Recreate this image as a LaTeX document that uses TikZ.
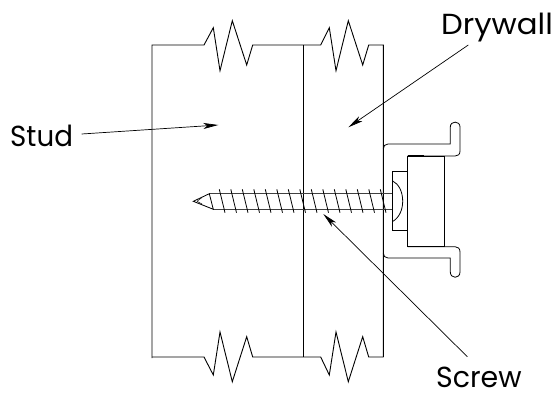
\documentclass[tikz,border=0pt]{standalone}
\usepackage{fontspec}
\setmainfont{Poppins}
\usetikzlibrary{arrows.meta}
\tikzset{
  wall/.style={line width=0.9pt,line join=miter},
  thin part/.style={line width=0.8pt},
  thread/.style={line width=0.8pt},
  shaft/.style={line width=1.1pt,black!75},
  leader/.style={line width=0.7pt,-{Stealth[length=15pt,width=6pt,inset=4pt]}},
  caption/.style={font=\fontsize{29}{32}\selectfont,inner sep=0pt,anchor=base west}
}
\begin{document}
\begin{tikzpicture}[x=1pt,y=-1pt]
\useasboundingbox (0,0) rectangle (556,393);
% stud and drywall outline
\draw[wall] (152,358) -- (152,45) -- (204,45) -- (213.3,27.7) -- (220,70.7) -- (232.3,20.7) -- (246.7,65) -- (252.7,45)
  -- (320.7,45) -- (329.3,27.7) -- (336,70.7) -- (348.3,20.7) -- (362.7,65) -- (368.7,45) -- (383.3,45) -- (383.3,357);
\draw[wall] (152,357) -- (204,357) -- (213.3,375) -- (220,332) -- (232.3,381.7) -- (246.7,336.7) -- (252.7,357)
  -- (320.7,357) -- (329.3,375) -- (336,332) -- (348.3,381.7) -- (362.7,336.7) -- (368.7,357) -- (383.3,357);
\draw[wall] (303.7,45) -- (303.7,357);
% clip
\draw[thin part] (383.3,149) .. controls (383.3,146) and (385,144) .. (388,144) -- (450.3,144) -- (450.3,127)
  .. controls (450.3,120.5) and (460,120.5) .. (460,127) -- (460,151)
  .. controls (460,154.5) and (458,156) .. (455,156) -- (407.7,156);
\draw[thin part] (383.3,253) .. controls (383.3,256) and (385,258) .. (388,258) -- (450.3,258) -- (450.3,272)
  .. controls (450.3,279) and (460,279) .. (460,272) -- (460,252)
  .. controls (460,248.5) and (458,246.7) .. (455,246.7) -- (407.7,246.7);
\draw[line width=1.1pt] (407.7,156) -- (424,156);
\draw[line width=1.1pt] (407.7,246.7) -- (424,246.7);
\draw[thin part] (407.7,156) rectangle (444.3,246.7);
\draw[thin part] (392.3,171.7) rectangle (407.7,230.3);
% screw head
\draw[thin part] (392.3,180.7) .. controls (399,184) and (402.7,192) .. (402.7,201.2) .. controls (402.7,210) and (399,218) .. (392.3,221.7);
% screw shaft
\draw[shaft] (209.3,193.7) -- (392.3,193.7);
\draw[shaft] (213.3,209.3) -- (392.3,209.3);
\draw[thin part] (209.3,193.7) -- (193.3,201.3) -- (213.3,209.3) -- cycle;
\draw[line width=0.5pt] (197,201.3) -- (202,197.5);
\draw[line width=0.5pt] (197,201.3) -- (202,204);
\foreach \k in {0,...,14}
  \draw[thread] ({219.3+11.5*\k},189.3) -- ({225+11.5*\k},212.7);
% labels
\node[caption,xscale=0.955] (stud) at (10,146) {Stud};
\node[caption,xscale=1.06] (drywall) at (441,35) {Drywall};
\node[caption,xscale=0.98] (screw) at (436,387.5) {Screw};
% leaders
\coordinate (studtail) at (81.7,134);
\coordinate (studtip) at (218.3,125);
\coordinate (drywalltail) at (468.3,45);
\coordinate (drywalltip) at (348.3,127.3);
\coordinate (screwtail) at (467.3,356.7);
\coordinate (screwtip) at (323.3,214);
\draw[leader] (studtail) -- (studtip);
\draw[leader] (drywalltail) -- (drywalltip);
\draw[leader] (screwtail) -- (screwtip);
\end{tikzpicture}
\end{document}
